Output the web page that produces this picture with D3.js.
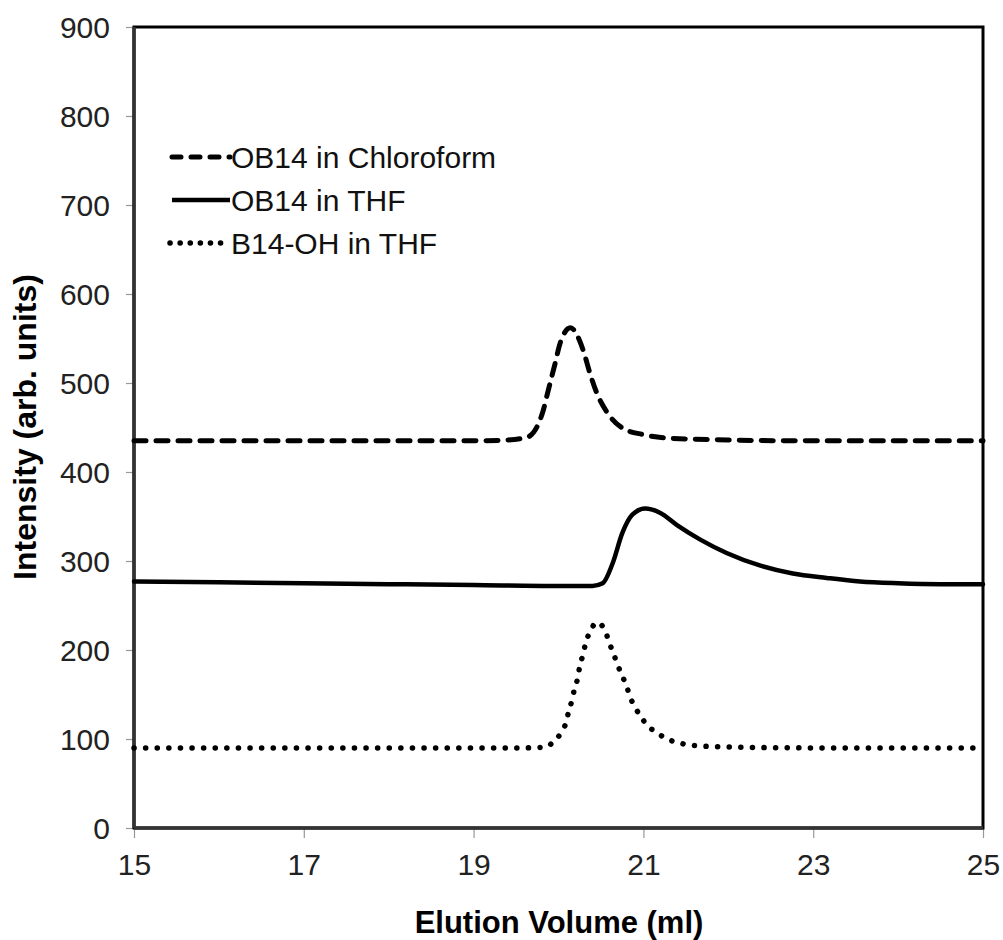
<!DOCTYPE html>
<html>
<head>
<meta charset="utf-8">
<script src="https://cdn.jsdelivr.net/npm/d3@7"></script>
<style>
  body { margin: 0; background: #fff; }
  text { font-family: "Liberation Sans", Arial, sans-serif; }
</style>
</head>
<body>
<svg id="chart" width="1003" height="940"></svg>
<script>
// values
var xTicks = [15, 17, 19, 21, 23, 25];
var yTicks = [0, 100, 200, 300, 400, 500, 600, 700, 800, 900];

var chloroX = [15, 16, 17, 18, 19, 19.4, 19.63, 19.81, 19.88, 19.96, 20.02, 20.14, 20.29, 20.37, 20.45, 20.58, 20.76, 21.0, 21.31, 22, 23, 24, 25];
var chloroY = [435, 435, 435, 435, 435, 436, 439, 466, 492, 522, 545, 562, 537, 511, 489, 466, 449, 442, 438, 436, 435, 435, 435];

var thfX = [15, 16, 17, 18, 19, 20, 20.4, 20.52, 20.64, 20.75, 20.87, 21.02, 21.2, 21.4, 21.67, 21.98, 22.37, 22.76, 23.16, 23.55, 24, 24.5, 25];
var thfY = [277, 276, 275, 274, 273, 272, 272, 275, 298, 331, 352, 359, 354, 340, 324, 309, 295, 286, 281, 277, 275, 274, 274];

var ohX = [15, 16, 17, 18, 19, 19.6, 19.85, 19.94, 20.03, 20.09, 20.12, 20.16, 20.19, 20.23, 20.25, 20.29, 20.32, 20.37, 20.45, 20.55, 20.59, 20.64, 20.69, 20.74, 20.8, 20.84, 20.9, 20.97, 21.05, 21.16, 21.28, 21.41, 21.55, 22, 23, 24, 25];
var ohY = [90, 90, 90, 90, 90, 90, 91, 97, 107, 119, 131, 144, 157, 170, 182, 195, 208, 220, 231, 222, 210, 198, 185, 173, 160, 148, 136, 125, 115, 107, 100, 96, 93, 91, 90, 90, 90];

var seriesNames = ["OB14 in Chloroform", "OB14 in THF", "B14-OH in THF"];

var svg = d3.select("#chart");
var margin = { left: 134, top: 27, right: 983, bottom: 828 };

var x = d3.scaleLinear().domain([15, 25]).range([margin.left, margin.right]);
var y = d3.scaleLinear().domain([0, 900]).range([margin.bottom, margin.top]);

// axes (gray ticks)
var xAxis = svg.append("g")
  .attr("transform", "translate(0," + margin.bottom + ")")
  .call(d3.axisBottom(x).tickValues(xTicks).tickSize(10).tickPadding(16).tickFormat(d3.format("d")));
var yAxis = svg.append("g")
  .attr("transform", "translate(" + margin.left + ",0)")
  .call(d3.axisLeft(y).tickValues(yTicks).tickSize(8).tickPadding(16).tickFormat(d3.format("d")));

[xAxis, yAxis].forEach(function (ax) {
  ax.select(".domain").remove();
  ax.selectAll(".tick line").attr("stroke", "#999").attr("stroke-width", 1.2);
  ax.selectAll(".tick text")
    .attr("fill", "#222")
    .style("font-size", "30px")
    .style("font-family", "'Liberation Sans', Arial, sans-serif");
});
yAxis.selectAll(".tick text").attr("dy", "0.36em");

// frame
svg.append("rect")
  .attr("x", margin.left)
  .attr("y", margin.top)
  .attr("width", margin.right - margin.left)
  .attr("height", margin.bottom - margin.top)
  .attr("fill", "none")
  .attr("stroke", "#000")
  .attr("stroke-width", 3);
// slightly grayer left/bottom axis lines like the original
svg.append("line")
  .attr("x1", margin.left).attr("x2", margin.left)
  .attr("y1", margin.top).attr("y2", margin.bottom)
  .attr("stroke", "#333").attr("stroke-width", 3.5);
svg.append("line")
  .attr("x1", margin.left).attr("x2", margin.right)
  .attr("y1", margin.bottom).attr("y2", margin.bottom)
  .attr("stroke", "#333").attr("stroke-width", 3.5);

var line = d3.line()
  .x(function (d) { return x(d[0]); })
  .y(function (d) { return y(d[1]); })
  .curve(d3.curveMonotoneX);

var styles = [
  { dash: "12 10", width: 5, cap: "round" },
  { dash: null, width: 4.5, cap: "round" },
  { dash: "0.1 11.5", width: 5.5, cap: "round" }
];

var data = [d3.zip(chloroX, chloroY), d3.zip(thfX, thfY), d3.zip(ohX, ohY)];

svg.append("g")
  .selectAll("path")
  .data(data)
  .enter()
  .append("path")
  .attr("d", line)
  .attr("fill", "none")
  .attr("stroke", "#000")
  .attr("stroke-width", function (d, i) { return styles[i].width; })
  .attr("stroke-linecap", function (d, i) { return styles[i].cap; })
  .attr("stroke-dasharray", function (d, i) { return styles[i].dash; });

// legend
var legend = svg.append("g");
seriesNames.forEach(function (name, i) {
  var ly = 157 + i * 43;
  legend.append("line")
    .attr("x1", i === 2 ? 170 : 172).attr("x2", 230)
    .attr("y1", ly).attr("y2", ly)
    .attr("stroke", "#000")
    .attr("stroke-width", styles[i].width)
    .attr("stroke-linecap", i === 1 ? "butt" : "round")
    .attr("stroke-dasharray", i === 0 ? "9 10" : (i === 2 ? "0.1 10" : null));
  legend.append("text")
    .attr("x", 231)
    .attr("y", ly)
    .attr("dy", "0.36em")
    .attr("fill", "#111")
    .style("font-size", "30px")
    .text(name);
});

// axis titles
svg.append("text")
  .attr("x", 559)
  .attr("y", 933)
  .attr("text-anchor", "middle")
  .style("font-size", "31px")
  .style("font-weight", "bold")
  .text("Elution Volume (ml)");

svg.append("text")
  .attr("transform", "translate(36,427) rotate(-90)")
  .attr("text-anchor", "middle")
  .style("font-size", "32px")
  .style("font-weight", "bold")
  .text("Intensity (arb. units)");
</script>
</body>
</html>
